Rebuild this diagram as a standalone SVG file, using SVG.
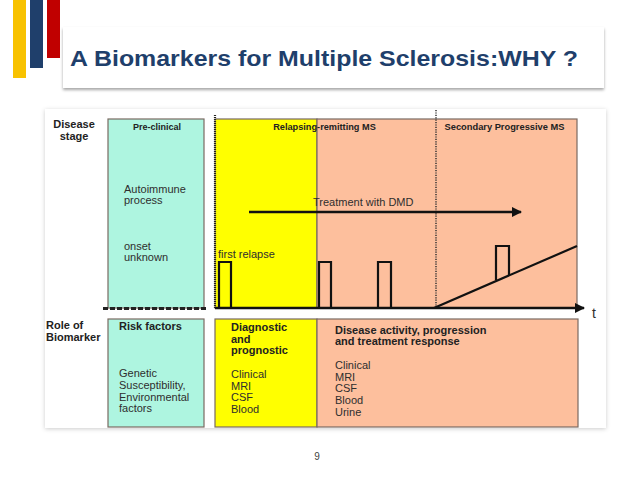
<svg xmlns="http://www.w3.org/2000/svg" width="638" height="479" viewBox="0 0 638 479">
<style>
.b{font-family:"Liberation Sans",Arial,sans-serif;font-weight:bold;fill:#222}
.r{font-family:"Liberation Sans",Arial,sans-serif;fill:#2e2e2e}
.bx{stroke:#7a6a62;stroke-width:1.2}
.pl{fill:none;stroke:#111;stroke-width:2.2}
</style>
<defs>
<filter id="sh" x="-5%" y="-10%" width="110%" height="130%">
<feDropShadow dx="0" dy="2" stdDeviation="1.5" flood-color="#000" flood-opacity="0.35"/>
</filter>
<filter id="sh2" x="-5%" y="-5%" width="110%" height="110%">
<feDropShadow dx="0" dy="1" stdDeviation="2" flood-color="#000" flood-opacity="0.2"/>
</filter>
<marker id="ah" viewBox="0 0 10 10" refX="9" refY="5" markerWidth="4" markerHeight="4" orient="auto" markerUnits="strokeWidth">
<path d="M0,0 L10,5 L0,10 z" fill="#111"/>
</marker>
</defs>
<rect width="638" height="479" fill="#fff"/>
<g id="bars">
<rect x="13" y="0" width="13" height="78" fill="#f8c200"/>
<rect x="30" y="0" width="13" height="68" fill="#1f3f6b"/>
<rect x="47" y="0" width="13" height="58" fill="#c00000"/>
</g>
<g id="title">
<rect x="63" y="27" width="541" height="61" fill="#fff" filter="url(#sh)"/>
<text x="70" y="66" font-family="Liberation Sans,Arial,sans-serif" font-weight="bold" font-size="22" fill="#1f3f6b" textLength="508" lengthAdjust="spacingAndGlyphs">A Biomarkers for Multiple Sclerosis:WHY ?</text>
</g>
<rect x="45" y="109" width="561" height="319" fill="#fff" filter="url(#sh2)"/>
<g id="stage-label"><text class="b" font-size="11" text-anchor="middle" x="74" y="128">Disease</text><text class="b" font-size="11" text-anchor="middle" x="74" y="140">stage</text></g>
<g id="preclinical">
<rect class="bx" x="108" y="119" width="96" height="189" fill="#aef5e0"/>
<text class="b" font-size="9" text-anchor="middle" x="157" y="130">Pre-clinical</text>
<text class="r" font-size="11" x="124" y="193">Autoimmune</text>
<text class="r" font-size="11" x="124" y="204">process</text>
<text class="r" font-size="11" x="124" y="250">onset</text>
<text class="r" font-size="11" x="124" y="261">unknown</text>
</g>
<g id="rrms">
<rect class="bx" x="215" y="119" width="102" height="189" fill="#ffff00"/>
<rect class="bx" x="317" y="119" width="260" height="189" fill="#fdbf9d"/>
<text class="b" font-size="9.2" text-anchor="middle" x="324.5" y="130">Relapsing-remitting MS</text>
<text class="r" font-size="11" x="218" y="258">first relapse</text>
</g>
<g id="spms">
<text class="b" font-size="9.3" text-anchor="middle" x="504.5" y="130">Secondary Progressive MS</text>
</g>
<g id="connectors">
<line x1="215" y1="115" x2="215" y2="308" stroke="#222" stroke-width="2.2" stroke-dasharray="1,1"/>
<line x1="436" y1="110" x2="436" y2="308" stroke="#333" stroke-width="1.5" stroke-dasharray="1.2,1.2"/>
<line x1="103" y1="308.5" x2="208" y2="308.5" stroke="#222" stroke-width="3" stroke-dasharray="5,2"/>
<line x1="249" y1="212" x2="521" y2="212" stroke="#111" stroke-width="2.6" marker-end="url(#ah)"/>
<line x1="215" y1="308" x2="584" y2="308" stroke="#111" stroke-width="2.6" marker-end="url(#ah)"/>
<line x1="434" y1="308" x2="577" y2="246" stroke="#111" stroke-width="2.2"/>
<path class="pl" d="M219,308 V262 H231 V308"/>
<path class="pl" d="M319,308 V262 H331 V308"/>
<path class="pl" d="M378,308 V262 H391 V308"/>
<path class="pl" d="M496,280 V246 H509 V275"/>
</g>
<text class="r" font-size="11" x="313" y="206">Treatment with DMD</text>
<text class="r" font-size="14" x="592" y="318">t</text>
<g id="role-label"><text class="b" font-size="11" x="46" y="329">Role of</text><text class="b" font-size="11" x="46" y="341">Biomarker</text></g>
<g id="risk">
<rect class="bx" x="108" y="319" width="96" height="108" fill="#aef5e0"/>
<text class="b" font-size="11" x="119" y="330">Risk factors</text>
<text class="r" font-size="11" x="119" y="377">Genetic</text>
<text class="r" font-size="11" x="119" y="389">Susceptibility,</text>
<text class="r" font-size="11" x="119" y="401">Environmental</text>
<text class="r" font-size="11" x="119" y="412">factors</text>
</g>
<g id="diag">
<rect class="bx" x="215" y="319" width="102" height="108" fill="#ffff00"/>
<text class="b" font-size="11" x="231" y="331">Diagnostic</text>
<text class="b" font-size="11" x="231" y="343">and</text>
<text class="b" font-size="11" x="231" y="354">prognostic</text>
<text class="r" font-size="11" x="231" y="378">Clinical</text>
<text class="r" font-size="11" x="231" y="390">MRI</text>
<text class="r" font-size="11" x="231" y="401">CSF</text>
<text class="r" font-size="11" x="231" y="413">Blood</text>
</g>
<g id="activity">
<rect class="bx" x="317" y="319" width="261" height="108" fill="#fdbf9d"/>
<text class="b" font-size="11" x="335" y="334">Disease activity, progression</text>
<text class="b" font-size="11" x="335" y="345">and treatment response</text>
<text class="r" font-size="11" x="335" y="369">Clinical</text>
<text class="r" font-size="11" x="335" y="381">MRI</text>
<text class="r" font-size="11" x="335" y="392">CSF</text>
<text class="r" font-size="11" x="335" y="404">Blood</text>
<text class="r" font-size="11" x="335" y="416">Urine</text>
</g>
<text x="317" y="460" font-family="Liberation Sans,Arial,sans-serif" font-size="10" fill="#444" text-anchor="middle">9</text>
</svg>
